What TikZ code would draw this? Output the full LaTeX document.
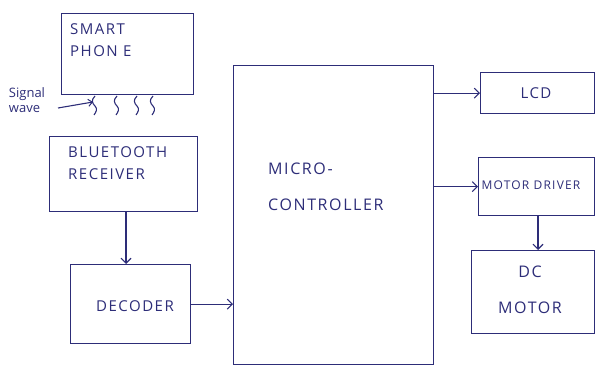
\documentclass[tikz,border=0pt]{standalone}
\usepackage{fontspec}
\setmainfont{Open Sans}[LetterSpace=10]
\usetikzlibrary{arrows.meta}
\definecolor{ink}{RGB}{45,45,120}
\tikzset{
  box/.style={draw=ink, line width=1.3pt, anchor=north west, inner sep=0pt},
  lbl/.style={text=ink, font=\fontsize{15}{22}\selectfont, align=left, inner sep=0pt},
  arr/.style={draw=ink, line width=1.1pt, -{Straight Barb[length=5pt,width=10pt,line width=1.1pt]}},
  wave/.style={draw=ink, line width=1.1pt},
}
\begin{document}
\begin{tikzpicture}[x=1pt,y=-1pt]
\useasboundingbox (0,0) rectangle (595,366);
\begin{scope}
\clip (0,0) rectangle (595,366);
% boxes
\node[box, minimum width=132pt, minimum height=81pt] (phone) at (61,13) {};
\node[box, minimum width=148pt, minimum height=75pt] (bt) at (49,136) {};
\node[box, minimum width=120pt, minimum height=79pt] (dec) at (70,264) {};
\node[box, minimum width=200pt, minimum height=299pt] (mc) at (233,65) {};
\node[box, minimum width=114pt, minimum height=41pt] (lcd) at (480,72) {};
\node[box, minimum width=116pt, minimum height=58pt] (md) at (478,157) {};
\node[box, minimum width=123pt, minimum height=83pt] (dc) at (471,250) {};
\end{scope}
% labels
\node[lbl, anchor=west] (tphone) at (70,40) {SMART\\PHON E};
\node[lbl, anchor=west] (tbt) at (68,163) {BLUETOOTH\\RECEIVER};
\node[lbl] (tdec) at (135,306) {DECODER};
\node[lbl, anchor=west, align=left, font=\fontsize{16}{36}\selectfont] (tmc) at (268,187) {MICRO-\\CONTROLLER};
\node[lbl] (tlcd) at (536,93) {LCD};
\node[lbl, font=\fontsize{12}{14}\selectfont] (tmd) at (531,185) {MOTOR DRIVER};
\node[lbl, align=center, font=\fontsize{16}{36}\selectfont] (tdc) at (530,290) {DC\\MOTOR};
\node[lbl, font=\fontsize{13}{15}\selectfont\addfontfeatures{LetterSpace=0}] (tsig) at (27,100) {Signal\\wave};
% signal waves
\coordinate (s0) at (58,108);
\coordinate (s1) at (93,102);
\draw[arr, -{Straight Barb[length=4pt,width=7pt,line width=1pt]}] (s0) -- (s1);
\foreach \x [count=\i] in {95,117,137,153}{
  \draw[wave] (\x,96) .. controls (\x-4,100) and (\x-3,103) .. (\x,106) .. controls (\x+3,109) and (\x+1,112) .. (\x-1,115);
}
% connectors
\draw[arr] (bt.south -| 126,0) -- (dec.north -| 126,0);
\draw[arr] (dec.east) -- (dec.east -| mc.west);
\draw[arr] (lcd.west -| mc.east) -- (lcd.west);
\draw[arr] (md.west -| mc.east) -- (md.west);
\draw[arr] (md.south -| 538,0) -- (dc.north -| 538,0);
\end{tikzpicture}
\end{document}
